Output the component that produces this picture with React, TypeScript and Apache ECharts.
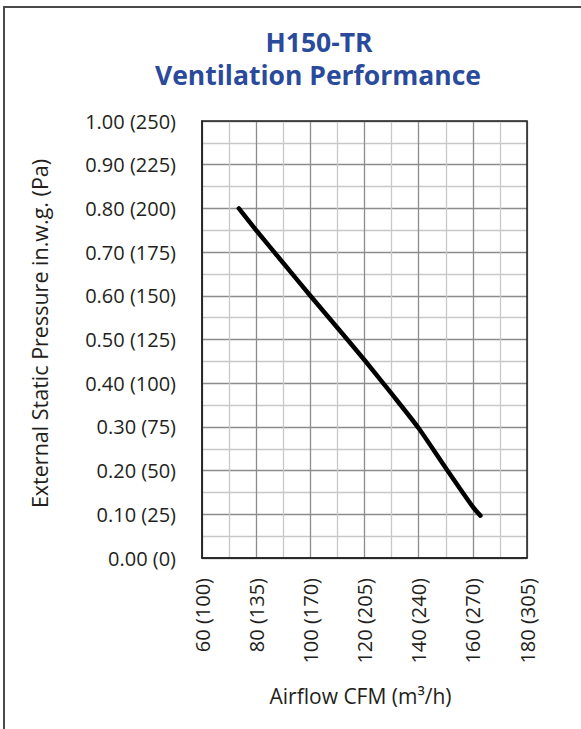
import React, { useEffect, useRef } from "react";
import * as echarts from "echarts";

const titleLines = ["H150-TR", "Ventilation Performance"];
const xTicks = [60, 80, 100, 120, 140, 160, 180];
const xTickLabels = ["60 (100)", "80 (135)", "100 (170)", "120 (205)", "140 (240)", "160 (270)", "180 (305)"];
const yTicks = [0, 0.1, 0.2, 0.3, 0.4, 0.5, 0.6, 0.7, 0.8, 0.9, 1.0];
const yTickLabels = [
  "0.00 (0)", "0.10 (25)", "0.20 (50)", "0.30 (75)", "0.40 (100)", "0.50 (125)",
  "0.60 (150)", "0.70 (175)", "0.80 (200)", "0.90 (225)", "1.00 (250)",
];
const airflowCFM = [73.6, 80, 90, 100, 110, 120, 130, 140, 150, 160, 162.8];
const pressureInWG = [0.8, 0.75, 0.675, 0.6, 0.527, 0.453, 0.376, 0.297, 0.206, 0.117, 0.097];
const xAxisTitle = "Airflow CFM (m³/h)";
const yAxisTitle = "External Static Pressure in.w.g. (Pa)";

export default function App() {
  const ref = useRef<HTMLDivElement>(null);
  useEffect(() => {
    if (!ref.current) return;
    const chart = echarts.init(ref.current, null, { renderer: "svg" });
    const font = "'Open Sans', 'Noto Sans', sans-serif";
    const textColor = "#231f20";
    const titleStyle = {
      fontFamily: font,
      fontWeight: "bold",
      fontSize: 26.5,
      lineHeight: 30,
      color: "#2a4a9c",
    };
    chart.setOption({
      animation: false,
      backgroundColor: "#ffffff",
      title: [
        { text: titleLines[0], left: 319, top: 27, textAlign: "center", padding: 0, textStyle: titleStyle },
        { text: titleLines[1], left: 318, top: 60, textAlign: "center", padding: 0, textStyle: titleStyle },
      ],
      graphic: [
        {
          type: "rect",
          shape: { x: 4, y: 7, width: 700, height: 900 },
          style: { fill: "none", stroke: "#4a4a4a", lineWidth: 2 },
          silent: true,
        },
        {
          type: "rect",
          shape: { x: 202, y: 121, width: 325, height: 437 },
          style: { fill: "none", stroke: "#222", lineWidth: 1.5 },
          silent: true,
          z: 10,
        },
      ],
      grid: { left: 202, right: 54, top: 121, bottom: 171 },
      xAxis: {
        type: "value",
        min: 60,
        max: 180,
        interval: 20,
        name: xAxisTitle,
        nameLocation: "middle",
        nameGap: 127,
        nameTextStyle: { fontFamily: font, fontSize: 21, color: textColor, padding: [0, 8, 0, 0] },
        axisLine: { show: true, onZero: false, lineStyle: { color: "#222", width: 1.5 } },
        axisTick: { show: false },
        axisLabel: {
          rotate: 90,
          margin: 20,
          fontFamily: font,
          fontSize: 20,
          color: textColor,
          formatter: (v: number) => {
            const i = xTicks.indexOf(Math.round(v));
            return i >= 0 ? xTickLabels[i] : "";
          },
        },
        splitLine: { show: true, lineStyle: { color: "#8c8c8c", width: 1.3 } },
        minorTick: { show: false, splitNumber: 2 },
        minorSplitLine: { show: true, lineStyle: { color: "#c8c8c8", width: 1.3 } },
      },
      yAxis: {
        type: "value",
        min: 0,
        max: 1,
        interval: 0.1,
        name: yAxisTitle,
        nameLocation: "middle",
        nameGap: 152,
        nameRotate: 90,
        nameTextStyle: { fontFamily: font, fontSize: 21.5, color: textColor, padding: [0, 0, 0, 12] },
        axisLine: { show: true, onZero: false, lineStyle: { color: "#222", width: 1.5 } },
        axisTick: { show: false },
        axisLabel: {
          margin: 26,
          fontFamily: font,
          fontSize: 20,
          color: textColor,
          formatter: (v: number) => {
            const i = yTicks.findIndex((t) => Math.abs(t - v) < 1e-6);
            return i >= 0 ? yTickLabels[i] : "";
          },
        },
        splitLine: { show: true, lineStyle: { color: "#8c8c8c", width: 1.3 } },
        minorTick: { show: false, splitNumber: 2 },
        minorSplitLine: { show: true, lineStyle: { color: "#c8c8c8", width: 1.3 } },
      },
      series: [
        {
          type: "line",
          data: airflowCFM.map((x, i) => [x, pressureInWG[i]]),
          showSymbol: false,
          symbol: "none",
          smooth: 0.25,
          lineStyle: { color: "#000000", width: 4.5, cap: "round", join: "round" },
          z: 5,
        },
      ],
    });
    return () => chart.dispose();
  }, []);
  return (
    <div
      ref={ref}
      style={{ position: "absolute", left: 0, top: 0, width: 581, height: 729 }}
    />
  );
}
